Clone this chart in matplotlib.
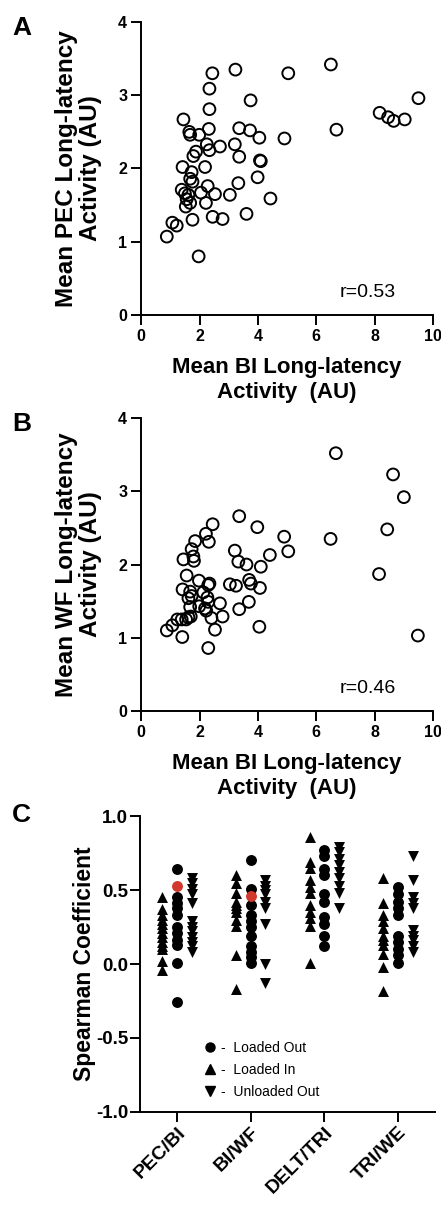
import numpy as np
import matplotlib
matplotlib.use("Agg")
import matplotlib.pyplot as plt
from matplotlib.lines import Line2D

plt.rcParams['font.family'] = ['Liberation Sans', 'DejaVu Sans']

# Panel A: BI vs PEC long-latency activity
a_bi = [1.45, 2.44, 2.34, 2.34, 3.23, 5.04, 6.50, 3.75, 6.69, 8.17, 8.46, 8.65, 9.03, 9.50,
        1.65, 1.68, 1.99, 2.32, 3.36, 3.73, 4.05, 4.91, 3.21, 3.36, 4.07, 4.10, 2.25, 2.70,
        2.34, 1.88, 1.79, 1.42, 2.19, 1.73, 1.68, 1.76, 2.28, 1.39, 1.50, 1.62, 2.05, 2.53,
        3.04, 3.33, 3.99, 4.43, 1.56, 1.68, 1.53, 2.22, 1.76, 2.45, 2.79, 3.61, 1.07, 1.22,
        0.88, 1.97]
a_pec = [2.67, 3.30, 3.09, 2.81, 3.35, 3.30, 3.42, 2.93, 2.53, 2.76, 2.70, 2.65, 2.67, 2.96,
         2.50, 2.46, 2.46, 2.54, 2.55, 2.52, 2.42, 2.41, 2.33, 2.16, 2.11, 2.10, 2.33, 2.30,
         2.25, 2.23, 2.17, 2.02, 2.02, 1.95, 1.86, 1.82, 1.76, 1.71, 1.66, 1.64, 1.67, 1.65,
         1.64, 1.80, 1.88, 1.59, 1.58, 1.53, 1.48, 1.53, 1.30, 1.34, 1.31, 1.38, 1.26, 1.22,
         1.07, 0.80]
a_r = "r=0.53"

# Panel B: BI vs WF long-latency activity
b_bi = [6.67, 8.63, 9.00, 8.43, 6.49, 8.15, 9.48, 3.36, 3.98, 4.90, 5.04, 4.41, 3.21, 3.33,
        3.61, 4.10, 2.45, 2.22, 2.32, 1.85, 1.73, 1.79, 1.45, 1.81, 1.56, 1.98, 2.34, 2.30,
        3.04, 3.25, 3.70, 3.76, 4.07, 1.42, 1.68, 1.73, 1.62, 2.13, 2.27, 2.30, 2.70, 1.99,
        2.19, 2.23, 1.68, 3.69, 3.36, 2.41, 2.79, 2.53, 4.05, 0.88, 1.07, 1.24, 1.39, 1.54,
        1.62, 1.70, 1.41, 2.30]
b_wf = [3.52, 3.23, 2.92, 2.48, 2.35, 1.87, 1.03, 2.66, 2.51, 2.38, 2.18, 2.13, 2.19, 2.04,
        2.00, 1.97, 2.55, 2.42, 2.31, 2.32, 2.21, 2.11, 2.07, 2.05, 1.85, 1.78, 1.74, 1.72,
        1.73, 1.71, 1.79, 1.74, 1.68, 1.66, 1.63, 1.57, 1.54, 1.62, 1.55, 1.49, 1.47, 1.43,
        1.40, 1.37, 1.42, 1.49, 1.39, 1.27, 1.29, 1.11, 1.15, 1.10, 1.17, 1.25, 1.25, 1.25,
        1.28, 1.29, 1.01, 0.86]
b_r = "r=0.46"

# Panel C: Spearman coefficients per muscle pair
pairs = ["PEC/BI", "BI/WF", "DELT/TRI", "TRI/WE"]
loaded_in = [
    [0.45, 0.37, 0.33, 0.30, 0.27, 0.24, 0.21, 0.18, 0.15, 0.12, 0.10, 0.02, -0.04],
    [0.60, 0.55, 0.48, 0.42, 0.40, 0.38, 0.35, 0.30, 0.26, 0.06, -0.17],
    [0.86, 0.69, 0.65, 0.57, 0.52, 0.48, 0.40, 0.35, 0.31, 0.26, 0.01],
    [0.58, 0.41, 0.33, 0.29, 0.24, 0.19, 0.16, 0.13, 0.07, -0.02, -0.18],
]
loaded_out = [
    [0.64, 0.45, 0.41, 0.38, 0.33, 0.25, 0.21, 0.16, 0.13, 0.01, -0.26],
    [0.70, 0.51, 0.40, 0.33, 0.29, 0.25, 0.19, 0.12, 0.08, 0.05, 0.01],
    [0.77, 0.73, 0.64, 0.60, 0.47, 0.42, 0.32, 0.27, 0.19, 0.12],
    [0.52, 0.47, 0.42, 0.38, 0.33, 0.19, 0.15, 0.10, 0.06, 0.01],
]
unloaded_out = [
    [0.58, 0.55, 0.51, 0.47, 0.41, 0.29, 0.25, 0.22, 0.18, 0.15, 0.12, 0.08],
    [0.57, 0.53, 0.50, 0.47, 0.42, 0.38, 0.27, 0.00, -0.13],
    [0.79, 0.76, 0.71, 0.67, 0.62, 0.58, 0.53, 0.48, 0.38],
    [0.73, 0.57, 0.45, 0.41, 0.38, 0.23, 0.19, 0.16, 0.12, 0.08],
]
highlight = [0.53, 0.46]  # r values from A and B (red)

fig = plt.figure(figsize=(4.41, 12.1), dpi=100)

def style(ax, size, pad):
    for s in ["top", "right"]:
        ax.spines[s].set_visible(False)
    for s in ["left", "bottom"]:
        ax.spines[s].set_linewidth(1.4)
    ax.tick_params(direction="out", length=7, width=1.4, labelsize=size, pad=pad)
    for lab in ax.get_xticklabels() + ax.get_yticklabels():
        lab.set_fontweight("bold")

def scatter_panel(rect, x, y, r, ylab, letter):
    ax = fig.add_axes(rect)
    ax.scatter(x, y, s=72, facecolors="none", edgecolors="black", linewidths=1.4,
               clip_on=False, zorder=3)
    ax.set_xlim(0, 10)
    ax.set_ylim(0, 4)
    ax.set_xticks(range(0, 11, 2))
    ax.set_yticks(range(0, 5))
    style(ax, 11.5, 3)
    ax.text(6.8, 0.31, r, fontsize=14, ha="left", va="center")
    ax.set_xlabel("Mean BI Long-latency\nActivity  (AU)", fontsize=16, fontweight="bold",
                  linespacing=1.3)
    ax.xaxis.set_label_coords(0.5, -0.142)
    ax.set_ylabel(ylab, fontsize=17.5, fontweight="bold", linespacing=1.05)
    ax.yaxis.set_label_coords(-0.135, 0.5)
    fig.text(0.027, rect[1] + rect[3] + 6 / 1210, letter, fontsize=19, fontweight="bold",
             va="top")
    return ax

scatter_panel([0.320, 0.7397, 0.662, 0.2421], a_bi, a_pec, a_r,
              "Mean PEC Long-latency\nActivity (AU)", "A")
scatter_panel([0.320, 0.4124, 0.662, 0.2421], b_bi, b_wf, b_r,
              "Mean WF Long-latency\nActivity (AU)", "B")

# Panel C
axc = fig.add_axes([0.3175, 0.081, 0.669, 0.2446])
off = 0.2
for i in range(len(pairs)):
    axc.scatter([i - off] * len(loaded_in[i]), loaded_in[i], marker="^", s=62,
                color="black", linewidths=0, zorder=3)
    axc.scatter([i] * len(loaded_out[i]), loaded_out[i], marker="o", s=62,
                color="black", linewidths=0, zorder=3)
    axc.scatter([i + off] * len(unloaded_out[i]), unloaded_out[i], marker="v", s=62,
                color="black", linewidths=0, zorder=3)
axc.scatter(range(len(highlight)), highlight, marker="o", s=62, color="#d0392b",
            linewidths=0, zorder=4)
axc.set_xlim(-0.5, 3.5)
axc.set_ylim(-1.0, 1.0)
axc.set_yticks([-1.0, -0.5, 0.0, 0.5, 1.0])
axc.set_yticklabels(["-1.0", "-0.5", "0.0", "0.5", "1.0"])
axc.set_xticks(range(len(pairs)))
axc.set_xticklabels(pairs, rotation=45, ha="right", rotation_mode="anchor")
style(axc, 13.5, 1.5)
for lab in axc.get_xticklabels():
    lab.set_fontsize(14)
axc.set_ylabel("Spearman Coefficient", fontsize=16.5, fontweight="bold")
axc.yaxis.set_label_coords(-0.15, 0.5)
fig.text(0.027, 1 - 803 / 1210, "C", fontsize=19, fontweight="bold", va="top")

handles = [Line2D([], [], ls="none", marker=m, color="black", markersize=6.5)
           for m in ["o", "^", "v"]]
axc.legend(handles, ["-  Loaded Out", "-  Loaded In", "-  Unloaded Out"],
           loc="upper left", bbox_to_anchor=(0.20, 0.26), frameon=False,
           fontsize=10, handlelength=0.8, handletextpad=0.4, labelspacing=0.6,
           borderaxespad=0)

fig.savefig("out.png", dpi=100)
